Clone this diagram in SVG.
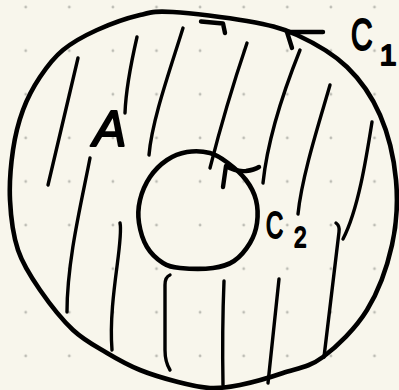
<svg xmlns="http://www.w3.org/2000/svg" width="399" height="390" viewBox="0 0 399 390">
<style>
.ink{fill:none;stroke:#000;stroke-linecap:round;stroke-linejoin:round}
.curve{stroke-width:4.6}
.hatch{stroke-width:3.4}
.arrow{stroke-width:4.4}
.lbl{font-family:"Liberation Sans",Arial,sans-serif;fill:#000;stroke:#000;stroke-width:2;stroke-linejoin:round}
</style>
<defs>
<pattern id="dots" patternUnits="userSpaceOnUse" x="3.9" y="-14.7" width="43.6" height="43.6">
<circle cx="21.8" cy="21.8" r="1.4" fill="#bcbcb4"/>
</pattern>
</defs>
<rect width="399" height="390" fill="#f8f6ec"/>
<rect width="399" height="390" fill="url(#dots)"/>

<g id="hatching" class="ink hatch">
<path d="M78,58 L48,185"/>
<path d="M137,37 Q126,85 125,113"/>
<path d="M183,28 C170,70 152,120 149,155"/>
<path d="M247,43 Q226,105 210,168"/>
<path d="M300,50 C288,80 268,135 263,183"/>
<path d="M330,85 C320,120 302,175 298,214"/>
<path d="M372,122 C366,160 358,210 343,239"/>
<path d="M90,158 C82,200 67,260 67,312"/>
<path d="M120,223 C124,240 108,300 112,350"/>
<path d="M170,275 Q165,277 165,285 L165,350 Q165,362 170,370"/>
<path d="M224,281 Q222,330 223,385"/>
<path d="M279,279 L268,383"/>
<path d="M336,223 Q340,226 339,232 L324,357"/>
</g>

<g id="C1" class="ink curve">
<path d="M173,12 C190.8,13 226.3,17.2 247,21 C267.7,24.8 280.3,27.3 297,35 C313.7,42.7 333.2,53.7 347,67 C360.8,80.3 371.8,96.2 380,115 C388.2,133.8 394,158.3 396,180 C398,201.7 396.8,223.3 392,245 C387.2,266.7 378.5,291.3 367,310 C355.5,328.7 337,346.5 323,357 C309,367.5 296.8,368.3 283,373 C269.2,377.7 252.2,382.5 240,385 C227.8,387.5 220.3,388.5 210,388 C199.7,387.5 189.7,385 178,382 C166.3,379 151.8,374.8 140,370 C128.2,365.2 118.2,359.7 107,353 C95.8,346.3 84.2,340.5 73,330 C61.8,319.5 49.2,303.3 40,290 C30.8,276.7 23,265 18,250 C13,235 10.8,216.7 10,200 C9.2,183.3 10.8,165 13,150 C15.2,135 18.5,122.2 23,110 C27.5,97.8 33.3,87 40,77 C46.7,67 53.5,57.8 63,50 C72.5,42.2 84.2,35.8 97,30 C109.8,24.2 127.3,18 140,15 C152.7,12 155.2,11 173,12 Z"/>
<path class="arrow" d="M201,21.5 L223,23.5 L225,33"/>
<path class="arrow" d="M323,32 L287,32 L292,48"/>
</g>

<g id="C2" class="ink curve">
<path d="M187,152 C194.2,150.8 203.2,151.2 210,153 C216.8,154.8 222,158.5 228,163 C234,167.5 241.3,173.8 246,180 C250.7,186.2 254.2,192.8 256,200 C257.8,207.2 258,215.8 257,223 C256,230.2 253.8,236.7 250,243 C246.2,249.3 240.2,256.8 234,261 C227.8,265.2 222,266.8 213,268 C204,269.2 188.3,268.8 180,268 C171.7,267.2 168.5,266.5 163,263 C157.5,259.5 151,253.7 147,247 C143,240.3 140.2,230.8 139,223 C137.8,215.2 138.2,207.7 140,200 C141.8,192.3 145.5,183.7 150,177 C154.5,170.3 160.8,164.2 167,160 C173.2,155.8 179.8,153.2 187,152 Z"/>
<path class="arrow" d="M223,187 L226,166 Q236,172 246,171 Q254,170 259,167"/>
</g>

<g id="labels">
<text class="lbl" x="93" y="146" font-size="50" font-style="italic">A</text>
<text class="lbl" transform="translate(351,50) scale(0.68,1)" font-size="44">C</text>
<text class="lbl" x="388" y="65" font-size="30" text-anchor="middle">1</text>
<text class="lbl" transform="translate(266,238) scale(0.66,1)" font-size="36">C</text>
<text class="lbl" transform="translate(294,247) scale(0.75,1)" font-size="30">2</text>
</g>
</svg>
